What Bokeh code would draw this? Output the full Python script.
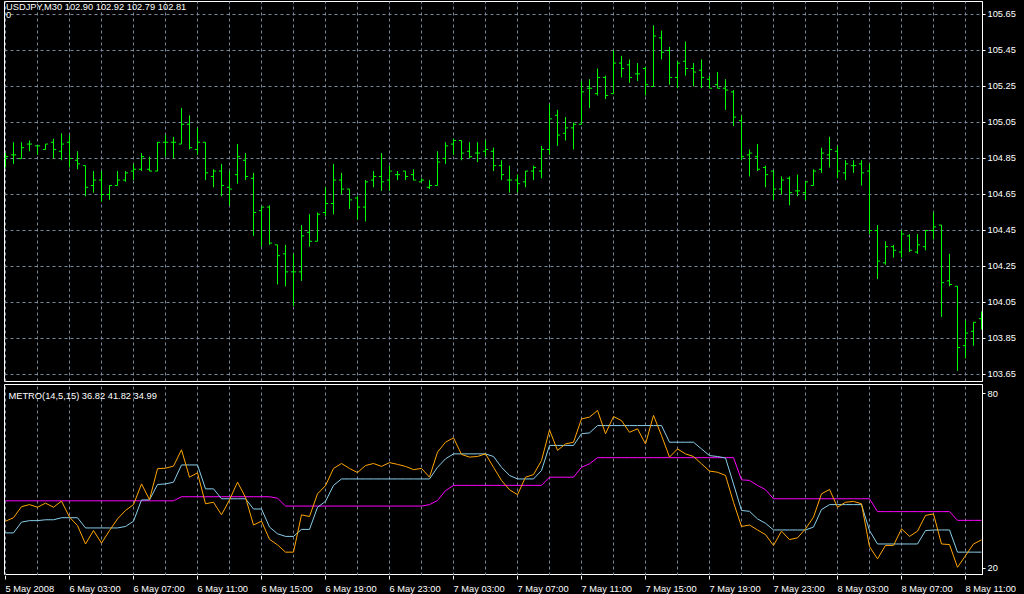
from bokeh.plotting import figure
from bokeh.models import Range1d, FixedTicker, Label, ColumnDataSource, PrintfTickFormatter
from bokeh.layouts import column
from bokeh.transform import dodge
from bokeh.core.properties import value
from bokeh.embed import file_html
from bokeh.resources import INLINE

# ---------------- data ----------------
symbol = "USDJPY,M30"
header_ohlc = [102.90, 102.92, 102.79, 102.81]
indicator_name = "METRO(14,5,15)"
indicator_values = [36.82, 41.82, 34.99]

opens = [
    104.85, 104.87, 104.85, 104.93, 104.92, 104.90, 104.94, 104.89, 104.94, 104.84,
    104.81, 104.70, 104.73, 104.65, 104.70, 104.73, 104.78, 104.79, 104.79, 104.78,
    104.94, 104.94, 104.93, 105.04, 104.90, 104.94, 104.75, 104.78, 104.69, 104.76,
    104.84, 104.74, 104.56, 104.58, 104.37, 104.32, 104.22, 104.22, 104.44, 104.39,
    104.55, 104.60, 104.73, 104.68, 104.63, 104.58, 104.73, 104.75, 104.73, 104.76,
    104.78, 104.76, 104.72, 104.69, 104.70, 104.85, 104.93, 104.95, 104.89, 104.88,
    104.89, 104.89, 104.81, 104.73, 104.73, 104.72, 104.78, 104.78, 104.90, 105.09,
    104.99, 105.02, 105.04, 105.24, 105.21, 105.30, 105.21, 105.38, 105.37, 105.32,
    105.35, 105.25, 105.52, 105.45, 105.30, 105.39, 105.35, 105.34, 105.29, 105.26,
    105.24, 105.22, 105.06, 104.87, 104.86, 104.80, 104.78, 104.68, 104.74, 104.67,
    104.66, 104.70, 104.79, 104.87, 104.89, 104.77, 104.81, 104.82, 104.78, 104.45,
    104.27, 104.36, 104.33, 104.42, 104.33, 104.36, 104.45, 104.48, 104.17, 104.14,
    103.81, 103.89, 103.96,
]
highs = [
    104.88, 104.94, 104.94, 104.95, 104.92, 104.93, 104.96, 104.99, 104.98, 104.89,
    104.81, 104.78, 104.78, 104.70, 104.78, 104.78, 104.82, 104.88, 104.86, 104.94,
    104.98, 104.97, 105.13, 105.09, 105.02, 104.94, 104.79, 104.82, 104.78, 104.93,
    104.88, 104.77, 104.58, 104.59, 104.37, 104.37, 104.32, 104.48, 104.54, 104.55,
    104.69, 104.82, 104.77, 104.68, 104.64, 104.73, 104.78, 104.88, 104.81, 104.78,
    104.78, 104.79, 104.74, 104.73, 104.89, 104.94, 104.96, 104.95, 104.94, 104.94,
    104.95, 104.91, 104.84, 104.81, 104.76, 104.78, 104.81, 104.92, 105.15, 105.12,
    105.08, 105.05, 105.28, 105.29, 105.35, 105.31, 105.45, 105.42, 105.40, 105.38,
    105.36, 105.59, 105.56, 105.47, 105.39, 105.50, 105.38, 105.40, 105.31, 105.33,
    105.29, 105.23, 105.09, 104.90, 104.93, 104.81, 104.78, 104.75, 104.75, 104.76,
    104.72, 104.79, 104.91, 104.97, 104.92, 104.84, 104.84, 104.84, 104.82, 104.48,
    104.39, 104.37, 104.45, 104.43, 104.43, 104.45, 104.55, 104.48, 104.32, 104.14,
    103.95, 103.94, 104.00,
]
lows = [
    104.80, 104.82, 104.85, 104.89, 104.87, 104.90, 104.85, 104.84, 104.80, 104.79,
    104.64, 104.66, 104.61, 104.62, 104.70, 104.72, 104.73, 104.78, 104.78, 104.78,
    104.86, 104.85, 104.93, 104.90, 104.87, 104.73, 104.69, 104.64, 104.59, 104.71,
    104.73, 104.42, 104.36, 104.37, 104.15, 104.14, 104.03, 104.17, 104.36, 104.39,
    104.53, 104.54, 104.65, 104.57, 104.51, 104.50, 104.69, 104.67, 104.67, 104.73,
    104.73, 104.73, 104.72, 104.68, 104.70, 104.82, 104.87, 104.84, 104.85, 104.83,
    104.86, 104.78, 104.73, 104.66, 104.66, 104.69, 104.73, 104.74, 104.87, 104.92,
    104.95, 104.90, 105.04, 105.13, 105.20, 105.18, 105.21, 105.30, 105.27, 105.28,
    105.20, 105.25, 105.40, 105.26, 105.24, 105.31, 105.25, 105.24, 105.24, 105.24,
    105.12, 105.03, 104.84, 104.75, 104.78, 104.69, 104.62, 104.65, 104.59, 104.64,
    104.62, 104.70, 104.77, 104.80, 104.74, 104.73, 104.77, 104.70, 104.43, 104.18,
    104.26, 104.30, 104.30, 104.33, 104.32, 104.34, 104.40, 103.97, 104.14, 103.67,
    103.74, 103.81, 103.90,
]
closes = [
    104.86, 104.87, 104.91, 104.93, 104.92, 104.93, 104.90, 104.93, 104.85, 104.82,
    104.69, 104.73, 104.65, 104.70, 104.73, 104.77, 104.79, 104.86, 104.78, 104.94,
    104.94, 104.94, 105.04, 104.91, 104.94, 104.77, 104.78, 104.70, 104.68, 104.86,
    104.75, 104.55, 104.58, 104.38, 104.31, 104.22, 104.22, 104.42, 104.39, 104.54,
    104.60, 104.73, 104.68, 104.62, 104.58, 104.72, 104.75, 104.72, 104.78, 104.76,
    104.75, 104.73, 104.73, 104.70, 104.83, 104.92, 104.95, 104.88, 104.86, 104.88,
    104.90, 104.81, 104.76, 104.73, 104.71, 104.78, 104.80, 104.90, 105.07, 104.98,
    105.02, 105.04, 105.22, 105.24, 105.30, 105.20, 105.38, 105.35, 105.30, 105.32,
    105.26, 105.53, 105.44, 105.30, 105.38, 105.35, 105.33, 105.30, 105.24, 105.24,
    105.23, 105.08, 104.86, 104.88, 104.79, 104.76, 104.68, 104.73, 104.66, 104.67,
    104.72, 104.78, 104.88, 104.90, 104.78, 104.82, 104.81, 104.77, 104.45, 104.28,
    104.36, 104.34, 104.43, 104.34, 104.37, 104.45, 104.47, 104.16, 104.15, 103.80,
    103.88, 103.94, 103.95,
]

# METRO indicator lines
metro_fast = [  # orange
    36.2, 37.4, 41.2, 41.9, 41.0, 42.4, 41.0, 43.1, 37.6, 34.7,
    28.4, 33.0, 28.7, 33.0, 37.0, 39.9, 41.9, 49.0, 43.6, 54.2,
    54.4, 55.1, 60.7, 51.3, 52.8, 42.2, 42.7, 38.4, 43.5, 49.6,
    44.4, 34.9, 36.2, 30.0, 28.1, 25.6, 25.6, 38.4, 37.8, 45.6,
    48.4, 54.3, 56.0, 54.3, 52.9, 55.3, 56.0, 55.0, 56.3, 55.7,
    55.0, 53.9, 54.3, 51.3, 59.9, 63.3, 64.8, 59.1, 58.2, 58.4,
    59.3, 54.7, 50.2, 47.0, 45.3, 51.3, 52.2, 57.0, 67.5, 60.5,
    62.7, 63.3, 71.3, 71.9, 74.2, 66.2, 72.1, 70.7, 66.7, 67.9,
    62.7, 72.5, 65.6, 58.2, 61.0, 59.3, 58.4, 55.9, 53.4, 53.0,
    51.9, 42.7, 34.4, 34.9, 33.2, 31.6, 27.9, 32.8, 29.9, 30.5,
    33.6, 37.6, 45.6, 47.1, 41.0, 42.7, 43.0, 42.2, 27.5, 23.3,
    27.9, 27.9, 33.6, 31.0, 32.8, 38.2, 38.7, 28.4, 28.2, 20.4,
    24.4, 28.4, 29.8,
]
metro_slow = [  # light blue
    32.2, 32.2, 35.9, 36.4, 36.4, 36.7, 36.7, 37.4, 37.4, 37.4,
    33.9, 33.9, 33.9, 33.9, 33.9, 34.4, 36.2, 43.5, 43.5, 48.8,
    49.0, 49.6, 55.5, 55.5, 55.5, 47.3, 47.3, 43.9, 43.9, 43.9,
    43.9, 40.4, 40.4, 34.2, 31.9, 31.0, 31.0, 33.4, 33.4, 41.0,
    43.0, 48.5, 50.7, 50.7, 50.7, 50.7, 50.7, 50.7, 50.7, 50.7,
    50.7, 50.7, 50.7, 50.7, 54.7, 57.6, 59.3, 59.3, 59.3, 59.3,
    59.3, 58.4, 54.7, 51.9, 50.7, 50.7, 50.7, 53.6, 62.2, 62.2,
    62.2, 62.2, 66.2, 66.5, 69.0, 69.0, 69.0, 69.0, 69.0, 69.0,
    69.0, 69.0, 69.0, 63.3, 63.3, 63.3, 63.3, 61.0, 58.7, 58.4,
    57.9, 49.0, 39.9, 39.6, 37.0, 35.5, 33.2, 33.2, 33.2, 33.2,
    33.2, 34.2, 40.2, 41.9, 41.9, 41.9, 41.9, 41.9, 33.0, 28.4,
    28.4, 28.4, 28.4, 28.4, 28.4, 33.0, 33.2, 33.2, 33.2, 25.6,
    25.6, 25.6, 25.6,
]
metro_stop = [  # magenta
    43.2, 43.2, 43.2, 43.2, 43.2, 43.2, 43.2, 43.2, 43.2, 43.2,
    43.2, 43.2, 43.2, 43.2, 43.2, 43.2, 43.2, 43.2, 43.2, 43.2,
    43.2, 43.2, 44.6, 44.6, 44.6, 44.6, 44.6, 44.6, 44.6, 44.6,
    44.6, 44.6, 44.6, 44.6, 44.1, 41.4, 41.4, 41.4, 41.4, 41.4,
    41.4, 41.4, 41.4, 41.4, 41.4, 41.4, 41.4, 41.4, 41.4, 41.4,
    41.4, 41.4, 41.4, 41.9, 43.3, 46.7, 48.5, 48.5, 48.5, 48.5,
    48.5, 48.5, 48.5, 48.5, 48.5, 48.5, 48.5, 48.5, 51.3, 51.3,
    51.3, 51.3, 54.7, 55.9, 58.0, 58.0, 58.0, 58.0, 58.0, 58.0,
    58.0, 58.0, 58.0, 58.0, 58.0, 58.0, 58.0, 58.0, 58.0, 58.0,
    58.0, 58.0, 50.4, 50.2, 48.5, 47.0, 43.9, 43.9, 43.9, 43.9,
    43.9, 43.9, 43.9, 43.9, 43.9, 43.9, 43.9, 43.9, 43.9, 39.5,
    39.5, 39.5, 39.5, 39.5, 39.5, 39.5, 39.5, 39.5, 39.5, 36.5,
    36.5, 36.5, 36.5,
]

time_labels = [
    "5 May 2008", "6 May 03:00", "6 May 07:00", "6 May 11:00",
    "6 May 15:00", "6 May 19:00", "6 May 23:00", "7 May 03:00",
    "7 May 07:00", "7 May 11:00", "7 May 15:00", "7 May 19:00",
    "7 May 23:00", "8 May 03:00", "8 May 07:00", "8 May 11:00",
]
price_ticks = [103.65, 103.85, 104.05, 104.25, 104.45, 104.65,
               104.85, 105.05, 105.25, 105.45, 105.65]
level_ticks = [20, 80]

# ---------------- style / layout ----------------
BARS_PER_LABEL = 8
BARS_PER_GRID = 4
FONT = "Liberation Sans"
FSIZE = "9.3px"
BG = "black"
GRID = "#778899"
BAR = "#00ff00"
C_FAST = "#ffa500"
C_SLOW = "#87ceeb"
C_STOP = "#ff00ff"

n = len(closes)
idx = list(range(n))
PX_PER_BAR = 8.0
FRAME_W = 978
LEFT = 4
X0 = -0.125          # half-pixel shift so 1px bar strokes land on pixel centres
XR = (X0, X0 + FRAME_W / PX_PER_BAR)
MAIN_H = 380
IND_H = 191
MAIN_YR = (103.611, 105.722)
IND_YR = (17.59, 83.09)

shared_x = Range1d(*XR)


def make_fig(h, yr, ticks, top_border, bottom_border):
    f = figure(frame_width=FRAME_W, frame_height=h, x_range=shared_x,
               y_range=Range1d(*yr), x_axis_location=None,
               y_axis_location="right", toolbar_location=None,
               output_backend="svg", background_fill_color=BG,
               border_fill_color=BG, outline_line_color="white",
               outline_line_width=1, min_border=0)
    f.min_border_left = LEFT
    f.min_border_top = top_border
    f.min_border_bottom = bottom_border
    f.xgrid.ticker = FixedTicker(ticks=idx[::BARS_PER_GRID])
    f.xgrid.grid_line_color = GRID
    f.xgrid.grid_line_dash = "3 3"
    ax = f.yaxis[0]
    ax.ticker = FixedTicker(ticks=ticks)
    ax.axis_line_color = "white"
    ax.major_tick_line_color = "white"
    ax.major_tick_out = 3
    ax.major_tick_in = 0
    ax.minor_tick_line_color = None
    ax.major_label_standoff = 2
    ax.major_label_text_color = "white"
    ax.major_label_text_font = FONT
    ax.major_label_text_font_size = FSIZE
    return f


def add_text(f, yr, h, text, left_px, top_px):
    f.add_layout(Label(x=XR[0] + left_px / PX_PER_BAR,
                       y=yr[1] - top_px * (yr[1] - yr[0]) / h,
                       text=text, text_color="white", text_font=FONT,
                       text_font_size=FSIZE, text_baseline="top",
                       text_align="left"))


# ---- price panel ----
p = make_fig(MAIN_H, MAIN_YR, price_ticks, 1, 1)
p.yaxis[0].formatter = PrintfTickFormatter(format="%.2f")
p.ygrid.grid_line_color = GRID
p.ygrid.grid_line_dash = "3 3"

src = ColumnDataSource(dict(x=idx, o=opens, h=highs, l=lows, c=closes))
TICK = 2.6 / PX_PER_BAR
p.segment(x0="x", y0="l", x1="x", y1="h", source=src, line_color=BAR, line_width=1)
p.segment(x0=dodge("x", -TICK), y0="o", x1="x", y1="o", source=src,
          line_color=BAR, line_width=1)
p.segment(x0="x", y0="c", x1=dodge("x", TICK), y1="c", source=src,
          line_color=BAR, line_width=1)

add_text(p, MAIN_YR, MAIN_H,
         symbol + "  " + " ".join(f"{v:.2f}" for v in header_ohlc), 1.5, 0.5)
add_text(p, MAIN_YR, MAIN_H, "0", 1.5, 10.5)

# ---- indicator panel ----
q = make_fig(IND_H, IND_YR, level_ticks, 2, 0)
q.ygrid.grid_line_color = None
isrc = ColumnDataSource(dict(x=idx, fast=metro_fast, slow=metro_slow, stop=metro_stop))
q.line("x", "stop", source=isrc, line_color=C_STOP, line_width=1)
q.line("x", "slow", source=isrc, line_color=C_SLOW, line_width=1)
q.line("x", "fast", source=isrc, line_color=C_FAST, line_width=1)
add_text(q, IND_YR, IND_H,
         indicator_name + " " + " ".join(f"{v:.2f}" for v in indicator_values), 4.0, 6.0)

# ---- time axis strip ----
STRIP_W = 1016
STRIP_H = 19
strip = figure(frame_width=STRIP_W, frame_height=STRIP_H,
               x_range=Range1d(XR[0], XR[0] + STRIP_W / PX_PER_BAR),
               y_range=Range1d(0, STRIP_H), x_axis_location=None,
               y_axis_location=None, toolbar_location=None,
               output_backend="svg", background_fill_color=BG,
               border_fill_color=BG, outline_line_color=None, min_border=0)
strip.min_border_left = LEFT
strip.xgrid.grid_line_color = None
strip.ygrid.grid_line_color = None
tick_x = idx[::BARS_PER_LABEL]
tsrc = ColumnDataSource(dict(x=tick_x, label=time_labels))
strip.segment(x0="x", y0=STRIP_H, x1="x", y1=STRIP_H - 4, source=tsrc,
              line_color="white", line_width=1)
strip.text(x="x", y=5.7, text="label", source=tsrc, text_color="white",
           text_font=value(FONT), text_font_size=value(FSIZE),
           text_align="left", text_baseline="alphabetic")

layout = column(p, q, strip, spacing=0)
html = file_html(layout, INLINE)
html = html.replace("<body>", '<body style="background-color:#000000;">')
open("out.html", "w").write(html)
